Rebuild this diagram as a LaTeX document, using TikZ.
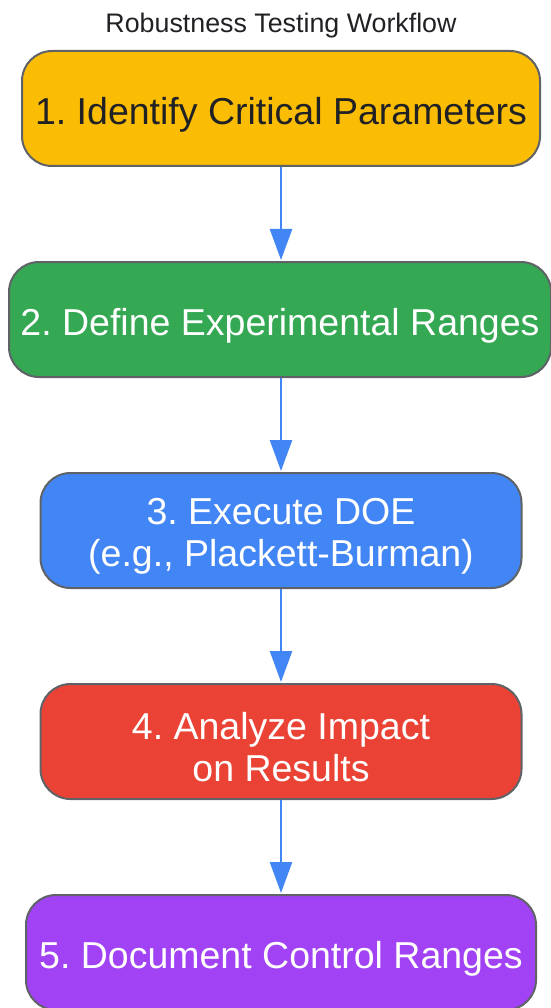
\documentclass[tikz,border=0pt]{standalone}
\usepackage{fontspec}
\setmainfont{Liberation Sans}
\usetikzlibrary{arrows.meta}
\definecolor{cyellow}{HTML}{FBBC04}
\definecolor{cgreen}{HTML}{34A853}
\definecolor{cblue}{HTML}{4285F4}
\definecolor{cred}{HTML}{EA4335}
\definecolor{cpurple}{HTML}{A142F4}
\definecolor{cborder}{HTML}{5F6368}
\definecolor{cdark}{HTML}{202124}
\tikzset{
  stepbox/.style={draw=cborder, line width=2pt, rounded corners=30pt, minimum height=115pt, inner sep=0pt},
  steptext/.style={align=center, inner sep=0pt, font=\frenchspacing\fontsize{37.5}{42}\selectfont, text=white},
  flow/.style={draw=cblue, line width=2.5pt, -{Triangle[length=31pt,width=22pt]}, shorten >=1pt},
}
\begin{document}
\begin{tikzpicture}[x=1pt,y=-1pt]
\useasboundingbox (0,0) rectangle (550,1008);
\node[font=\fontsize{26.8}{30}\selectfont, text=cdark] (title) at (281,25.5) {Robustness Testing Workflow};
\node[stepbox, fill=cyellow, minimum width=518pt] (s1) at (281,108.5) {};
\node[stepbox, fill=cgreen, minimum width=542pt] (s2) at (280,319.5) {};
\node[stepbox, fill=cblue, minimum width=481pt] (s3) at (281,530.5) {};
\node[stepbox, fill=cred, minimum width=481pt] (s4) at (281,741.5) {};
\node[stepbox, fill=cpurple, minimum width=510pt] (s5) at (281,952.5) {};
\node[steptext, text=cdark] (t1) at ([yshift=-6pt]s1.center) {1. Identify Critical Parameters};
\node[steptext] (t2) at ([yshift=-6pt]s2.center) {2. Define Experimental Ranges};
\node[steptext] (t3) at ([yshift=-6pt]s3.center) {3. Execute DOE\\(e.g., Plackett-Burman)};
\node[steptext] (t4) at ([yshift=-6pt]s4.center) {4. Analyze Impact\\on Results};
\node[steptext] (t5) at ([yshift=-6pt]s5.center) {5. Document Control Ranges};
\draw[flow] (s1.south -| 281,0) -- (s2.north -| 281,0);
\draw[flow] (s2.south -| 281,0) -- (s3.north -| 281,0);
\draw[flow] (s3) -- (s4);
\draw[flow] (s4) -- (s5);
\end{tikzpicture}
\end{document}
